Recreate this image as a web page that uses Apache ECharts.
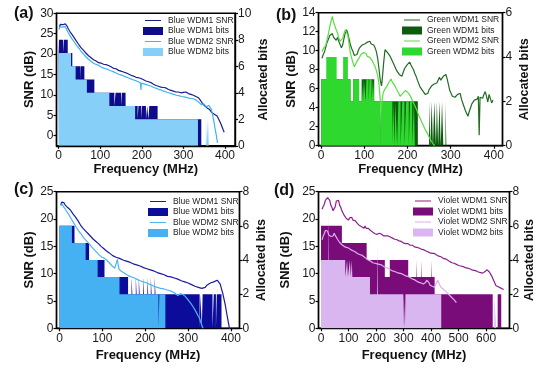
<!DOCTYPE html>
<html><head><meta charset="utf-8">
<script src="https://cdn.jsdelivr.net/npm/echarts/dist/echarts.min.js"></script>
<style>html,body{margin:0;padding:0;background:#fff}#c{width:550px;height:372px}</style>
</head><body><div id="c"></div><script>
// ---------- Panel (a): Blue, 10 bit axis ----------
const aNames = ['Blue WDM1 SNR','Blue WDM1 bits','Blue WDM2 SNR','Blue WDM2 bits'];
const aSnr1 = [[2,26.6],[4,27.3],[6,27.0],[8,27.5],[10,27.2],[12,27.6],[14,27.1],[16,27.4],[18,27.2],[20,26.9],[22,26.6],[24,26.1],[26,25.9],[28,25.4],[30,25.2],[33,24.7],[36,24.3],[39,23.8],[42,23.3],[45,22.9],[48,22.4],[51,22.1],[54,21.6],[57,21.3],[60,20.9],[63,20.6],[66,20.2],[69,19.9],[72,19.6],[75,19.3],[78,19.1],[81,18.8],[84,18.6],[87,18.3],[90,18.3],[93,17.9],[96,17.9],[99,17.7],[102,17.8],[105,17.5],[108,17.5],[111,17.3],[114,17.4],[117,17.1],[120,17.2],[123,16.8],[126,16.9],[129,16.6],[132,16.5],[135,16.3],[138,16.4],[141,16.1],[144,16.0],[147,15.9],[150,15.8],[153,15.6],[156,15.6],[159,15.3],[162,15.4],[165,15.1],[168,15.1],[171,14.8],[174,14.8],[177,14.6],[180,14.6],[183,14.3],[186,14.3],[189,14.1],[192,14.2],[195,13.9],[198,14.0],[201,13.9],[204,13.7],[207,13.8],[210,13.4],[213,13.3],[216,13.2],[219,12.9],[222,13.0],[225,12.8],[228,12.6],[231,12.6],[234,12.3],[237,12.3],[240,12.1],[243,12.2],[246,11.9],[249,11.8],[252,11.8],[255,11.6],[258,11.7],[261,11.5],[264,11.3],[267,11.3],[270,11.1],[273,11.2],[276,10.9],[279,10.9],[282,10.7],[285,10.6],[288,10.7],[291,10.5],[294,10.5],[297,10.4],[300,10.6],[303,10.4],[306,10.7],[309,10.4],[312,10.3],[315,10.4],[318,10.1],[321,10.1],[324,9.9],[327,9.8],[330,9.6],[333,9.5],[336,9.3],[339,9.0],[342,8.5],[345,8.0],[348,7.6],[351,7.3],[354,7.0],[357,6.8],[360,6.7],[363,6.4],[366,6.0],[369,5.6],[372,5.4],[375,5.2],[378,5.4],[381,4.8],[384,4.2],[387,3.6],[390,2.9],[393,2.1],[396,1.3],[398,0.8]];
const aSnr2 = [[1,26.0],[3,26.7],[5,26.4],[7,26.9],[9,26.6],[11,27.0],[13,26.6],[15,26.8],[17,26.4],[19,26.1],[21,25.8],[23,25.3],[25,25.0],[27,24.6],[29,24.3],[32,23.8],[35,23.4],[38,22.9],[41,22.5],[44,22.0],[47,21.6],[50,21.3],[53,20.8],[56,20.5],[59,20.1],[62,19.8],[65,19.4],[68,19.1],[71,18.8],[74,18.5],[77,18.3],[80,18.0],[83,17.8],[86,17.5],[89,17.5],[92,17.2],[95,17.3],[98,17.0],[101,16.9],[104,16.8],[107,16.6],[110,16.7],[113,16.4],[116,16.4],[119,16.2],[122,16.3],[125,15.9],[128,16.0],[131,15.7],[134,15.7],[137,15.4],[140,15.4],[143,15.1],[146,15.2],[149,14.9],[152,14.9],[155,14.7],[158,14.6],[161,14.4],[164,14.5],[167,14.2],[170,14.2],[173,13.9],[176,14.0],[179,13.7],[182,13.7],[185,13.5],[188,13.5],[191,13.2],[194,13.3],[197,12.9],[198,11.2],[199,12.9],[202,12.9],[205,12.7],[208,12.6],[211,12.5],[214,12.3],[217,12.3],[220,12.0],[223,12.1],[226,11.8],[229,11.8],[232,11.6],[235,11.6],[238,11.4],[241,11.3],[244,11.2],[247,11.2],[250,11.0],[253,10.9],[256,10.9],[259,10.7],[262,10.7],[265,10.5],[268,10.5],[271,10.3],[274,10.3],[277,10.1],[280,10.1],[283,9.9],[286,9.9],[289,9.8],[292,9.8],[295,9.6],[298,9.7],[301,9.5],[304,9.6],[307,9.4],[310,9.4],[313,9.2],[316,9.3],[319,9.1],[322,9.0],[325,9.0],[328,8.8],[331,8.7],[334,8.5],[337,8.2],[340,7.9],[343,7.6],[346,7.5],[349,7.8],[352,7.6],[355,7.1],[358,7.0],[361,7.4],[364,7.2],[367,6.5],[370,5.2],[373,3.6],[376,1.8],[379,0.1],[382,-1.8]];
const aBits1 = [[0,7],[1,8],[11,7],[13,8],[22,7],[33,6],[52,5],[53,6],[62,5],[86,4],[134,3],[137,4],[150,3],[152,4],[161,3],[190,2],[192,3],[198,2],[200,3],[210,2],[213,3],[216,2],[218,3],[238,2],[343,0]];
const aBits2 = [[0,7],[30,6],[41,5],[68,4],[122,3],[184,2],[335,0],[354,2],[356,0],[359,2],[361,0]];

// ---------- Panel (b): Green, 6 bit axis ----------
const bNames = ['Green WDM1 SNR','Green WDM1 bits','Green WDM2 SNR','Green WDM2 bits'];
const bSnr1 = [[2,9.2],[5,9.6],[8,9.9],[11,10.4],[14,10.9],[17,11.2],[20,11.6],[23,11.5],[26,11.8],[29,11.4],[32,11.6],[35,11.1],[38,11.4],[41,11.0],[44,10.8],[47,10.3],[50,10.6],[53,11.3],[56,11.9],[59,12.2],[62,11.8],[65,11.2],[68,10.6],[71,10.2],[74,9.9],[77,9.5],[80,9.7],[83,9.6],[86,10.0],[89,10.3],[92,10.2],[95,10.6],[98,10.4],[101,10.7],[104,10.5],[107,10.9],[110,10.8],[113,11.0],[116,10.7],[119,10.9],[122,10.6],[125,10.3],[128,9.9],[131,9.2],[134,8.1],[137,6.9],[140,6.3],[142,7.2],[145,8.8],[148,10.1],[151,10.3],[154,9.8],[157,9.9],[160,9.4],[163,9.2],[166,8.8],[169,8.6],[172,8.2],[175,7.9],[178,7.8],[181,7.5],[184,7.6],[187,7.3],[190,7.7],[193,8.1],[196,8.2],[199,8.5],[202,8.4],[205,8.8],[208,8.5],[211,8.4],[214,8.0],[217,7.6],[220,7.3],[223,6.9],[226,6.7],[229,6.2],[232,6.1],[235,5.8],[238,5.7],[241,5.4],[244,5.6],[247,5.5],[250,5.9],[253,6.0],[256,6.3],[259,6.2],[262,6.5],[265,6.7],[268,6.6],[271,6.9],[274,7.2],[277,6.9],[280,7.0],[283,7.3],[286,7.2],[289,7.5],[292,7.0],[295,6.4],[298,5.8],[301,5.5],[304,5.2],[307,5.0],[310,5.1],[313,5.3],[316,5.4],[319,5.2],[322,5.5],[325,4.9],[328,4.5],[331,4.1],[334,3.7],[337,3.4],[340,3.1],[343,3.6],[346,4.0],[349,4.4],[352,4.6],[355,4.8],[358,5.0],[361,4.9],[364,5.2],[366,1.1],[368,5.1],[371,5.3],[374,5.0],[377,5.4],[380,5.7],[383,5.2],[386,4.6],[389,5.4],[392,5.6],[395,4.5],[398,4.8]];
const bSnr2 = [[2,9.9],[5,10.2],[8,10.3],[11,10.6],[14,11.2],[17,11.8],[20,12.5],[23,13.1],[26,13.6],[29,13.0],[32,12.6],[35,12.2],[38,11.9],[41,11.3],[44,11.0],[47,10.8],[50,11.3],[53,11.8],[56,12.2],[59,12.4],[62,11.6],[65,10.6],[68,9.7],[71,9.2],[74,8.7],[77,8.3],[80,8.6],[83,8.9],[86,9.1],[89,9.3],[92,9.6],[95,9.5],[98,9.8],[101,9.6],[104,9.7],[107,9.4],[110,9.5],[113,9.3],[116,9.2],[119,8.9],[122,8.6],[125,8.3],[128,7.9],[131,7.4],[134,6.5],[137,4.8],[139,3.6],[141,4.7],[144,5.6],[147,5.9],[150,6.1],[153,6.3],[156,6.6],[159,6.8],[162,7.0],[165,6.7],[168,6.5],[171,6.3],[174,6.0],[177,5.8],[180,5.5],[183,5.2],[186,5.3],[189,5.5],[192,5.6],[195,5.8],[198,5.9],[201,5.6],[204,5.4],[207,5.2],[210,4.9],[213,4.6],[216,4.3],[219,4.0],[222,3.7],[225,3.3],[228,3.0],[231,2.7],[234,2.4],[237,2.1],[240,1.8],[243,1.6],[246,1.3],[249,1.0],[252,0.8],[255,0.5],[258,0.3],[261,0.1],[263,0]];
const bBits1 = [[0,3],[68,2],[74,3],[88,2],[94,3],[123,2],[137,0],[139,2],[224,0],[250,2],[253,0],[256,2],[259,0],[262,2],[266,0],[268,2],[271,0],[274,2],[277,0],[280,2],[283,0],[288,2],[290,0]];
const bBits2 = [[0,3],[12,4],[36,3],[51,4],[62,3],[68,2],[74,3],[88,2],[94,3],[97,2],[99,3],[103,2],[105,3],[110,2],[112,3],[117,2],[120,3],[123,2],[137,0],[139,2],[165,0],[167,2],[170,0],[172,2],[176,0],[179,2],[184,0],[188,2],[193,0],[197,2],[203,0],[206,2],[211,0],[215,2],[217,0]];

// ---------- Panel (c): Blue, 8 bit axis ----------
const cNames = ['Blue WDM1 SNR','Blue WDM1 bits','Blue WDM2 SNR','Blue WDM2 bits'];
const cSnr1 = [[3,22.6],[5,23.1],[7,22.8],[10,23.0],[13,22.6],[16,22.7],[19,22.1],[22,22.1],[25,21.7],[28,21.5],[31,21.0],[34,20.9],[37,20.4],[40,20.1],[43,19.7],[46,19.4],[49,18.9],[52,18.8],[55,18.3],[58,18.2],[61,17.8],[64,17.7],[67,17.3],[70,17.2],[73,16.8],[76,16.7],[79,16.3],[82,16.3],[85,15.9],[88,15.9],[91,15.5],[94,15.4],[97,15.0],[100,15.0],[103,14.6],[106,14.6],[109,14.2],[112,14.1],[116,13.8],[120,13.7],[124,13.3],[128,13.3],[132,13.0],[136,13.0],[140,12.8],[144,12.8],[148,12.5],[152,12.6],[156,12.3],[160,12.4],[164,12.1],[168,12.2],[172,11.8],[176,11.9],[180,11.6],[184,11.7],[188,11.4],[192,11.5],[196,11.1],[200,11.3],[204,10.9],[208,11.0],[212,10.7],[216,10.7],[220,10.5],[224,10.5],[228,10.2],[232,10.3],[236,10.0],[240,10.1],[244,9.8],[248,9.9],[252,9.5],[256,9.7],[260,9.4],[264,9.5],[268,9.2],[272,9.4],[276,9.0],[280,9.1],[284,8.7],[288,8.8],[292,8.5],[296,8.5],[300,8.3],[304,8.3],[308,8.0],[312,8.0],[316,7.7],[320,7.8],[324,7.5],[328,7.6],[332,7.3],[336,7.5],[340,7.5],[344,7.9],[348,7.9],[352,8.3],[356,8.2],[360,8.5],[364,8.5],[368,8.8],[372,8.5],[375,8.1],[378,7.2],[381,6.4],[384,5.3],[387,4.2],[390,2.8],[393,1.5],[396,0.2],[398,-0.5]];
const cSnr2 = [[3,22.4],[6,22.8],[9,22.3],[12,22.1],[15,21.6],[18,21.5],[21,20.9],[24,20.7],[27,20.1],[30,20.0],[33,19.3],[36,19.1],[39,18.5],[42,18.4],[45,17.8],[48,17.7],[51,17.2],[54,17.0],[57,16.5],[60,16.4],[63,16.0],[66,15.9],[69,15.5],[72,15.4],[75,14.9],[78,14.9],[81,14.4],[84,14.4],[87,13.9],[90,13.9],[93,13.4],[96,13.4],[99,13.0],[102,13.1],[105,12.8],[108,12.8],[111,12.4],[114,12.4],[117,11.9],[120,11.8],[123,11.4],[126,11.3],[129,11.0],[132,11.3],[135,12.6],[137,11.6],[139,10.8],[142,10.7],[145,10.4],[148,10.4],[151,10.1],[154,10.2],[157,9.8],[160,9.9],[164,9.5],[168,9.6],[172,9.3],[176,9.4],[180,9.0],[184,9.1],[188,8.7],[192,8.8],[196,8.5],[200,8.6],[204,8.3],[208,8.4],[212,8.0],[216,8.1],[220,7.7],[224,7.8],[228,7.5],[232,7.6],[236,7.3],[240,7.5],[244,7.2],[248,7.3],[252,7.0],[256,7.1],[260,6.8],[264,6.9],[268,6.5],[272,6.5],[276,6.0],[279,5.9],[282,6.3],[285,6.5],[288,6.2],[291,6.1],[294,5.8],[297,5.7],[300,5.2],[303,5.1],[306,4.6],[309,4.4],[312,3.9],[315,3.7],[318,3.1],[321,2.9],[324,2.2],[327,1.8],[330,1.0],[333,0.4],[335,0]];
const cBits1 = [[0,6],[35,5],[69,4],[105,3],[160,2],[168,3],[170,2],[178,3],[180,2],[185,3],[187,2],[195,3],[197,2],[205,3],[207,2],[213,3],[215,2],[222,3],[224,2],[327,0],[329,2],[332,0],[334,2],[357,0],[360,2],[365,0],[367,2],[378,0]];
const cBits2 = [[0,6],[29,5],[61,4],[89,3],[140,2],[231,0],[233,2],[247,0]];

// ---------- Panel (d): Violet, 8 bit axis ----------
const dNames = ['Violet WDM1 SNR','Violet WDM1 bits','Violet WDM2 SNR','Violet WDM2 bits'];
const dSnr1 = [[4,21.8],[8,22.3],[12,22.7],[16,23.4],[20,23.5],[24,23.9],[28,23.8],[32,23.4],[36,22.5],[40,22.1],[44,21.5],[48,21.9],[52,22.3],[56,23.3],[60,23.5],[64,23.4],[68,22.5],[72,22.1],[76,21.5],[80,21.3],[84,20.7],[88,20.7],[92,20.1],[96,20.1],[100,19.8],[104,20.2],[108,20.2],[112,20.3],[116,19.8],[120,19.8],[124,19.7],[128,19.6],[132,19.2],[136,19.3],[140,18.8],[144,18.9],[148,18.6],[152,18.6],[156,18.3],[160,18.7],[164,18.3],[168,18.6],[172,18.3],[176,18.3],[180,17.9],[184,17.9],[188,17.6],[192,17.6],[196,17.3],[200,17.4],[204,17.2],[208,17.2],[212,17.4],[216,17.1],[220,17.2],[224,16.9],[228,16.9],[232,16.8],[236,16.9],[240,16.7],[244,16.9],[248,16.6],[252,16.7],[256,16.6],[260,16.5],[264,16.7],[268,16.3],[272,16.3],[276,16.2],[280,16.1],[284,16.0],[288,16.0],[292,15.9],[296,15.9],[300,15.6],[304,15.9],[308,15.5],[312,15.8],[316,15.5],[320,15.5],[324,15.2],[328,15.3],[332,15.2],[336,15.2],[340,14.9],[344,15.2],[348,14.8],[352,15.0],[356,14.7],[360,14.9],[364,14.5],[368,14.6],[372,14.4],[376,14.5],[380,14.2],[384,14.3],[388,14.0],[392,14.3],[396,13.8],[400,14.0],[404,13.7],[408,13.8],[412,13.7],[416,13.7],[420,13.4],[424,13.6],[428,13.2],[432,13.3],[436,13.1],[440,13.1],[444,12.8],[448,12.9],[452,12.7],[456,12.7],[460,12.5],[464,12.5],[468,12.2],[472,12.3],[476,12.0],[480,12.1],[484,11.9],[488,11.9],[492,11.7],[496,11.8],[500,11.5],[504,11.7],[508,11.4],[512,11.5],[516,11.3],[520,11.4],[524,11.1],[528,11.3],[532,11.0],[536,11.1],[540,10.9],[544,11.0],[548,10.7],[552,10.9],[556,10.6],[560,10.7],[564,10.5],[568,10.6],[572,10.3],[576,10.5],[580,10.2],[584,10.4],[588,10.1],[592,10.4],[596,10.4],[600,10.7],[604,10.7],[608,10.8],[612,10.3],[616,10.2],[620,9.6],[624,9.4],[628,8.7],[632,8.4],[636,7.8],[640,7.7],[644,7.6],[648,7.5],[652,7.4],[656,7.3],[660,7.2],[664,7.1]];
const dSnr2 = [[4,16.2],[8,16.9],[12,17.3],[16,17.9],[20,18.0],[24,17.8],[28,17.1],[32,16.9],[36,16.8],[40,16.8],[44,16.9],[48,17.4],[52,17.0],[56,16.9],[60,16.3],[64,16.2],[68,15.7],[72,15.7],[76,15.3],[80,15.4],[84,15.0],[88,15.1],[92,14.8],[96,14.9],[100,14.7],[104,14.7],[108,14.4],[112,14.6],[116,14.2],[120,14.3],[124,14.0],[128,14.1],[132,13.7],[136,13.8],[140,13.5],[144,13.6],[148,13.4],[152,13.4],[156,13.1],[160,13.1],[164,12.8],[168,12.8],[172,12.5],[176,12.5],[180,12.3],[184,12.3],[188,12.0],[192,12.1],[196,11.9],[200,12.0],[204,11.8],[208,11.9],[212,11.7],[216,11.8],[220,11.6],[224,11.6],[228,11.3],[232,11.4],[236,11.1],[240,11.2],[244,11.0],[248,11.0],[252,10.7],[256,10.8],[260,10.5],[264,10.7],[268,10.4],[272,10.5],[276,10.2],[280,10.3],[284,10.1],[288,10.2],[292,10.0],[296,10.1],[300,9.8],[304,9.9],[308,9.6],[312,9.7],[316,9.5],[320,9.6],[324,9.3],[328,9.4],[332,9.0],[336,9.1],[340,8.9],[344,8.9],[348,8.6],[352,8.7],[356,8.4],[360,8.5],[364,8.3],[368,8.4],[372,8.1],[376,8.4],[380,8.4],[384,8.8],[388,8.5],[392,8.4],[396,7.9],[400,8.0],[404,7.7],[408,7.8],[412,7.5],[416,7.9],[420,8.2],[424,8.8],[428,8.3],[432,8.0],[436,7.5],[440,7.6],[444,7.2],[448,7.2],[452,6.8],[456,6.8],[460,6.4],[464,6.4],[468,6.0],[472,6.0],[476,5.6],[480,5.6],[484,5.2],[488,5.0],[492,4.7]];
const dBits1 = [[0,6],[76,5],[166,4],[232,3],[250,4],[317,3],[347,4],[349,3],[365,4],[367,3],[400,4],[402,3],[413,2],[624,0],[642,2],[655,0]];
const dBits2 = [[0,4],[27,7],[29,4],[88,3],[95,4],[98,3],[105,4],[108,3],[112,4],[114,3],[178,2],[204,5],[207,2],[299,0],[301,2],[305,0],[307,2],[437,0],[630,2],[636,0]];

// ---------- tick labels ----------
const xTicks400 = [0,100,200,300,400];
const xTicks600 = [0,100,200,300,400,500,600];
const aSnrTicks = [0,5,10,15,20,25,30];
const aBitTicks = [0,2,4,6,8,10];
const bSnrTicks = [0,2,4,6,8,10,12,14];
const bBitTicks = [0,2,4,6];
const cdSnrTicks = [0,5,10,15,20,25];
const cdBitTicks = [0,2,4,6,8];

const FONT = '"Liberation Sans", Arial, Helvetica, sans-serif';
const LINE_ICON = 'path://M0,0h0.05v0.05h-0.05z M0,4.4h20v1.3h-20z M19.95,9.95h0.05v0.05h-0.05z';

const panels = [
  {tag:'(a)', tagPos:[14,6], grid:{left:56.5, top:13.3, width:178.5, height:132.5},
   xr:[-5,424], xt:xTicks400, yl:[-2.5,30], ylt:aSnrTicks, yr:[0,10], yrt:aBitTicks,
   gapL:18, gapR:22, gapX:12, leg:[143,15.5],
   names:aNames, snr1:aSnr1, snr2:aSnr2, bits1:aBits1, bits2:aBits2,
   col:{l1:'#1c1c8e', b1:'#0c0c8c', l2:'#3eb4f0', b2:'#86cff8'}},
  {tag:'(b)', tagPos:[276,8], grid:{left:318.5, top:12.7, width:184, height:133},
   xr:[-6,420], xt:xTicks400, yl:[0,14], ylt:bSnrTicks, yr:[0,6], yrt:bBitTicks,
   gapL:15, gapR:16, gapX:12, leg:[402,15],
   names:bNames, snr1:bSnr1, snr2:bSnr2, bits1:bBits1, bits2:bBits2,
   col:{l1:'#226b22', b1:'#0d5c0d', l2:'#5add44', b2:'#2ed82e'}},
  {tag:'(c)', tagPos:[14,182], grid:{left:56.5, top:191.7, width:183, height:136.6},
   xr:[-7,420], xt:xTicks400, yl:[0,25], ylt:cdSnrTicks, yr:[0,8], yrt:cdBitTicks,
   gapL:20, gapR:16, gapX:21, leg:[148,196.5],
   names:cNames, snr1:cSnr1, snr2:cSnr2, bits1:cBits1, bits2:cBits2,
   col:{l1:'#1a1aa0', b1:'#0c0c9a', l2:'#4ab6f0', b2:'#45b0f2'}},
  {tag:'(d)', tagPos:[274,183], grid:{left:318.5, top:191.7, width:191, height:136.6},
   xr:[-9,685], xt:xTicks600, yl:[0,25], ylt:cdSnrTicks, yr:[0,8], yrt:cdBitTicks,
   gapL:27, gapR:14, gapX:21, leg:[413,196],
   names:dNames, snr1:dSnr1, snr2:dSnr2, bits1:dBits1, bits2:dBits2,
   col:{l1:'#8c1f8c', b1:'#7a0c7a', l2:'#dfaef0', b2:'#dab6f0'}}
];

const axisLineStyle = {color:'#000', width:1.4};
const option = {
  animation:false, backgroundColor:'#fff',
  title:[], grid:[], xAxis:[], yAxis:[], legend:[], series:[]
};

panels.forEach((p, i) => {
  option.title.push({text:p.tag, left:p.tagPos[0], top:p.tagPos[1], padding:0,
    textStyle:{fontSize:16, fontWeight:'bold', color:'#111', fontFamily:FONT}});
  option.grid.push(Object.assign({show:true, borderColor:'#000', borderWidth:1.4, backgroundColor:'transparent'}, p.grid));
  option.xAxis.push({type:'value', gridIndex:i, min:p.xr[0], max:p.xr[1],
    name:'Frequency (MHz)', nameLocation:'middle', nameGap:p.gapX,
    nameTextStyle:{fontSize:13, fontWeight:'bold', color:'#111', fontFamily:FONT},
    axisLine:{show:true, onZero:false, lineStyle:axisLineStyle},
    axisTick:{show:true, length:3, lineStyle:{color:'#000', width:1.2}, customValues:p.xt},
    axisLabel:{fontSize:12, color:'#1a1a1a', margin:4, fontFamily:FONT, customValues:p.xt},
    splitLine:{show:false}});
  option.yAxis.push({type:'value', gridIndex:i, position:'left', min:p.yl[0], max:p.yl[1],
    name:'SNR (dB)', nameLocation:'middle', nameGap:p.gapL,
    nameTextStyle:{fontSize:13, fontWeight:'bold', color:'#111', fontFamily:FONT},
    axisLine:{show:true, onZero:false, lineStyle:axisLineStyle},
    axisTick:{show:true, length:3, lineStyle:{color:'#000', width:1.2}, customValues:p.ylt},
    axisLabel:{fontSize:12, color:'#1a1a1a', margin:3, fontFamily:FONT, customValues:p.ylt},
    splitLine:{show:false}});
  option.yAxis.push({type:'value', gridIndex:i, position:'right', min:p.yr[0], max:p.yr[1],
    name:'Allocated bits', nameLocation:'middle', nameGap:p.gapR,
    nameTextStyle:{fontSize:12.5, fontWeight:'bold', color:'#111', fontFamily:FONT},
    axisLine:{show:true, onZero:false, lineStyle:axisLineStyle},
    axisTick:{show:true, length:3, lineStyle:{color:'#000', width:1.2}, customValues:p.yrt},
    axisLabel:{fontSize:12, color:'#1a1a1a', margin:3, fontFamily:FONT, customValues:p.yrt},
    splitLine:{show:false}});
  const yL = i*2, yR = i*2+1;
  const area = (name, data, color) => ({type:'line', name, xAxisIndex:i, yAxisIndex:yR, data,
    step:'end', symbol:'none', silent:true, lineStyle:{width:0, opacity:0},
    areaStyle:{color, opacity:1}, itemStyle:{color}});
  const line = (name, data, color) => ({type:'line', name, xAxisIndex:i, yAxisIndex:yL, data,
    symbol:'none', silent:true, lineStyle:{width:1.2, color}, itemStyle:{color}});
  option.series.push(area(p.names[1], p.bits1, p.col.b1));
  option.series.push(area(p.names[3], p.bits2, p.col.b2));
  option.series.push(line(p.names[0], p.snr1, p.col.l1));
  option.series.push(line(p.names[2], p.snr2, p.col.l2));
  option.legend.push({orient:'vertical', left:p.leg[0], top:p.leg[1], itemWidth:20, itemHeight:8,
    itemGap:0.5, selectedMode:false, padding:0,
    textStyle:{fontSize:8.5, color:'#222', fontFamily:FONT, lineHeight:10},
    data:[
      {name:p.names[0], icon:LINE_ICON, itemStyle:{color:p.col.l1, borderWidth:0}},
      {name:p.names[1], icon:'rect', itemStyle:{color:p.col.b1, borderWidth:0}},
      {name:p.names[2], icon:LINE_ICON, itemStyle:{color:p.col.l2, borderWidth:0}},
      {name:p.names[3], icon:'rect', itemStyle:{color:p.col.b2, borderWidth:0}}
    ]});
});

const chart = echarts.init(document.getElementById('c'), null, {renderer:'canvas'});
chart.setOption(option);
</script></body></html>
